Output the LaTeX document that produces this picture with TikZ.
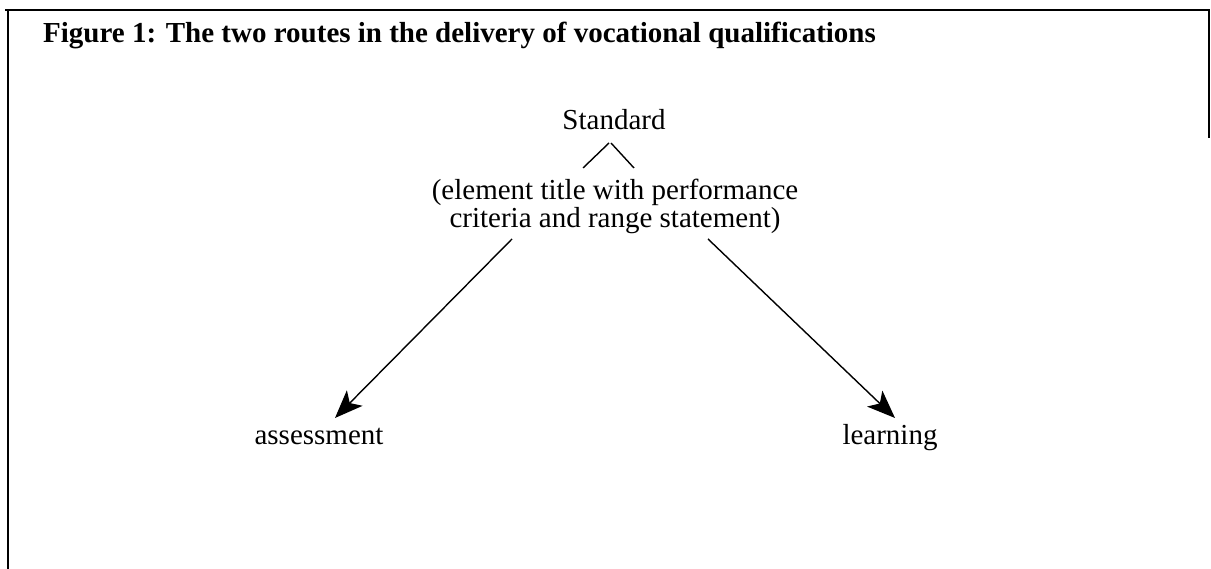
\documentclass[tikz,border=0pt]{standalone}
\usepackage{fontspec}
\setmainfont{Liberation Serif}
\usetikzlibrary{arrows.meta}
\begin{document}
\begin{tikzpicture}[x=1pt,y=1pt,
  label text/.style={font=\fontsize{29}{30}\selectfont, inner sep=0pt, anchor=base},
  frame line/.style={line width=1.8pt},
  link/.style={line width=1.4pt},
  route/.style={line width=1.4pt, -{Stealth[length=28pt,width=22pt,inset=7pt]}}]
  \useasboundingbox (0,0) rectangle (1211,569);
  % open frame: top edge, full left edge, short right edge
  \draw[frame line] (5,559) -- (1210,559);
  \draw[frame line] (8,559) -- (8,0);
  \draw[frame line] (1209,559) -- (1209,431);
  % caption
  \node[anchor=base west, inner sep=0pt, font=\bfseries\fontsize{29}{30}\selectfont] (title) at (43,526)
    {Figure 1: The two routes in the delivery of vocational qualifications};
  % standard and its description
  \node[label text] (std) at (614,439) {Standard};
  \node[label text] (desc1) at (615,369) {(element title with performance};
  \node[label text] (desc2) at (615,341) {criteria and range statement)};
  % the two routes
  \node[label text] (assess) at (319,124) {assessment};
  \node[label text] (learn) at (890,124) {learning};
  % connector end points
  \coordinate (capL) at (583,401);
  \coordinate (capTL) at (609,426);
  \coordinate (capTR) at (611,426);
  \coordinate (capR) at (634,401);
  \coordinate (fromL) at (512,330);
  \coordinate (toL) at (335,151);
  \coordinate (fromR) at (708,330);
  \coordinate (toR) at (895,151);
  \draw[link] (capL) -- (capTL);
  \draw[link] (capTR) -- (capR);
  \draw[route] (fromL) -- (toL);
  \draw[route] (fromR) -- (toR);
\end{tikzpicture}
\end{document}
